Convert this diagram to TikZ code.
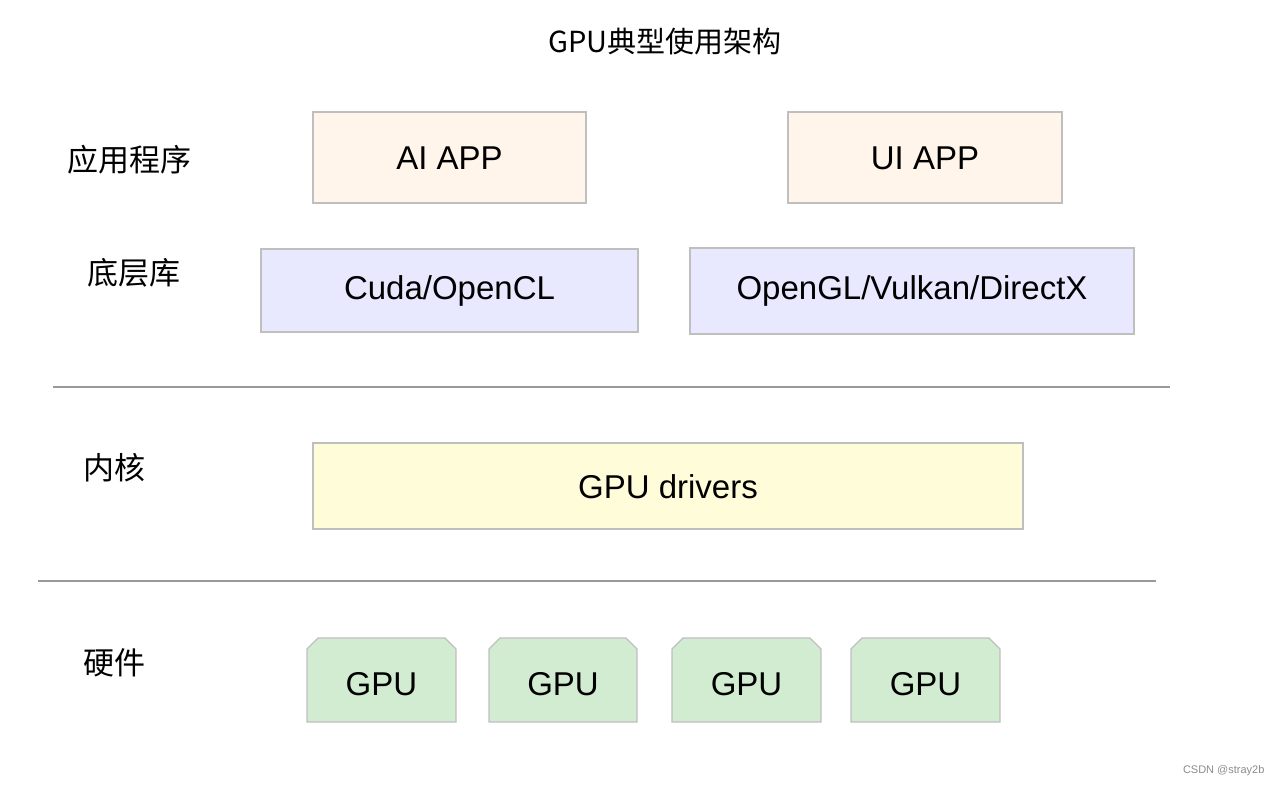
\documentclass[tikz,border=0pt]{standalone}
\usepackage{fontspec}
\setmainfont{Liberation Sans}
\newfontfamily\cjk{Noto Sans CJK SC}
\begin{document}
\begin{tikzpicture}[x=1pt,y=-1pt,
  box/.style={draw=black!25,line width=1.2pt},
  txt/.style={font=\fontsize{33}{36}\selectfont},
  lab/.style={font=\cjk\fontsize{31}{34}\selectfont,anchor=west},
  sep/.style={draw=black!40,line width=2pt}]
\useasboundingbox[fill=white] (0,0) rectangle (1280,788);
\node[font=\cjk\fontsize{29}{32}\selectfont] (title) at (665,42) {GPU典型使用架构};
\node[lab] (l1) at (64,160) {应用程序};
\node[lab] (l2) at (84,273) {底层库};
\node[lab] (l3) at (80,468) {内核};
\node[lab] (l4) at (80,663) {硬件};
\draw[box,fill=orange!8] (313,112) rectangle (586,203);
\node[txt] (ai) at (449.5,158) {AI APP};
\draw[box,fill=orange!8] (788,112) rectangle (1062,203);
\node[txt] (ui) at (925,158) {UI APP};
\draw[box,fill=blue!9] (261,249) rectangle (638,332);
\node[txt] (cuda) at (449.5,291) {Cuda/OpenCL};
\draw[box,fill=blue!9] (690,248) rectangle (1134,334);
\node[txt] (gl) at (912,291) {OpenGL/Vulkan/DirectX};
\coordinate (s1a) at (53,387); \coordinate (s1b) at (1170,387);
\draw[sep] (s1a) -- (s1b);
\draw[box,fill=yellow!15] (313,443) rectangle (1023,529);
\node[txt] (drv) at (668,487) {GPU drivers};
\coordinate (s2a) at (38,581); \coordinate (s2b) at (1156,581);
\draw[sep] (s2a) -- (s2b);
\foreach \a/\b [count=\i] in {307/456,489/637,672/821,851/1000}{
  \draw[box,fill=green!60!black!20,fill opacity=0.9] (\a,722) -- (\a,649) -- (\a+11,638) -- (\b-11,638) -- (\b,649) -- (\b,722) -- cycle;
  \node[txt] (g\i) at ({(\a+\b)/2},684) {GPU};
}
\node[font=\fontsize{11}{12}\selectfont,text=black!45,anchor=east] (wm) at (1268,771) {CSDN @stray2b};
\end{tikzpicture}
\end{document}
